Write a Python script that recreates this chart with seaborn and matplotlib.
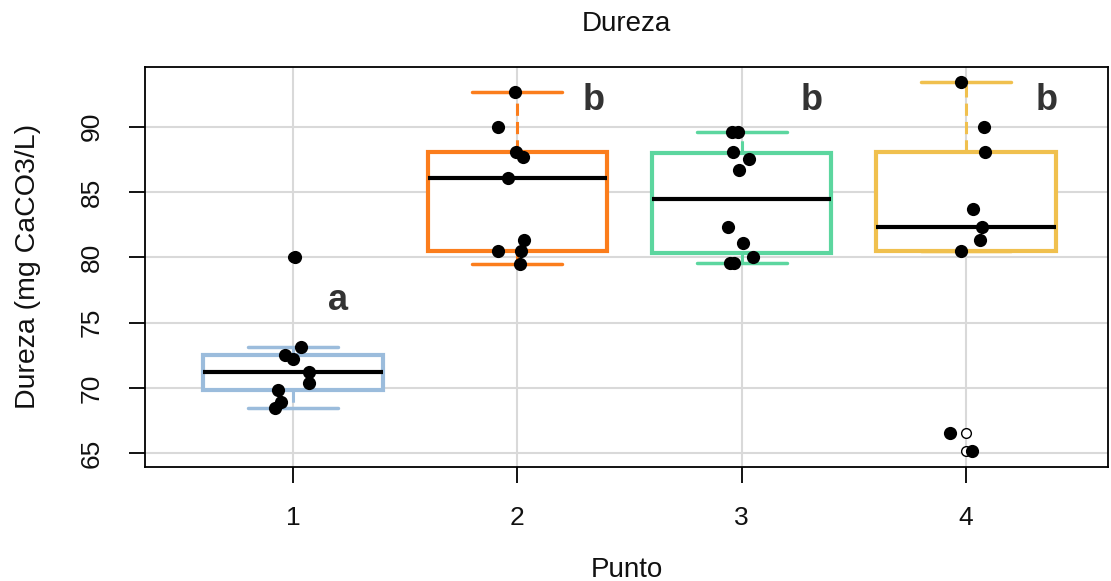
import numpy as np
import pandas as pd
import matplotlib
matplotlib.use("Agg")
import matplotlib.pyplot as plt
import seaborn as sns

# ---- data ----
categories = ["1", "2", "3", "4"]
dureza_1 = [80.05, 73.1, 72.5, 72.2, 71.25, 70.4, 69.84, 68.95, 68.5]
dureza_2 = [92.63, 90.0, 88.09, 87.65, 86.05, 81.33, 80.48, 80.48, 79.49]
dureza_3 = [89.62, 89.62, 88.09, 87.55, 86.68, 82.3, 81.07, 80.05, 79.6, 79.54]
dureza_4 = [93.45, 90.0, 88.09, 83.7, 82.3, 81.33, 80.48, 66.57, 65.19]
letters = ["a", "b", "b", "b"]
letter_y = [76.7, 92.0, 92.0, 92.0]
letter_dx = [0.20, 0.34, 0.31, 0.36]
yticks = [65, 70, 75, 80, 85, 90]

colors = ["#9BBCDC", "#FB7D1C", "#5CD69F", "#F0C04E"]

series = [dureza_1, dureza_2, dureza_3, dureza_4]
df = pd.DataFrame({
    "Punto": np.concatenate([[c] * len(v) for c, v in zip(categories, series)]),
    "Dureza": np.concatenate(series),
})

sns.set_theme(style="white")
plt.rcParams["font.family"] = ["Liberation Sans", "DejaVu Sans"]

fig, ax = plt.subplots(figsize=(11.11, 5.81), dpi=100)
fig.subplots_adjust(left=0.1305, right=0.9973, top=0.8847, bottom=0.1967)

for cat, col in zip(categories, colors):
    sub = df[df["Punto"] == cat]
    sns.boxplot(
        data=sub, x="Punto", y="Dureza", order=categories, ax=ax,
        width=0.8, fill=True, linewidth=3, whis=1.5,
        boxprops={"facecolor": "white", "edgecolor": col, "linewidth": 3, "zorder": 2},
        whiskerprops={"color": col, "linewidth": 2.2, "linestyle": (0, (4, 2)), "zorder": 2},
        capprops={"color": col, "linewidth": 2.5, "zorder": 2},
        medianprops={"color": "black", "linewidth": 3, "zorder": 3},
        flierprops={"marker": "o", "markerfacecolor": "white",
                    "markeredgecolor": "black", "markersize": 7,
                    "markeredgewidth": 1.0, "zorder": 3},
    )

np.random.seed(3)
sns.stripplot(data=df, x="Punto", y="Dureza", order=categories, ax=ax,
              color="black", size=9.5, jitter=0.09, linewidth=0, zorder=5)

for i, (lt, ly, dx) in enumerate(zip(letters, letter_y, letter_dx)):
    ax.text(i + dx, ly, lt, ha="center", va="center", fontsize=26,
            fontweight="bold", color="#333333", zorder=6)

ax.set_xlim(-0.66, 3.633)
ax.set_ylim(63.97, 94.57)
ax.set_yticks(yticks)
ax.set_yticklabels([str(t) for t in yticks])

ax.grid(True, color="#d9d9d9", linewidth=1.5)
ax.set_axisbelow(True)
for sp in ax.spines.values():
    sp.set_visible(True)
    sp.set_color("black")
    sp.set_linewidth(1.3)

ax.tick_params(axis="both", which="major", direction="out", length=11.5,
               width=1.3, color="black", labelsize=19, labelcolor="#111111",
               bottom=True, left=True)
ax.tick_params(axis="x", pad=17)
ax.tick_params(axis="y", pad=18)
for lbl in ax.get_yticklabels():
    lbl.set_rotation(90)
    lbl.set_va("center")
    lbl.set_ha("right")

ax.set_xlabel("Punto", fontsize=20, color="#111111", labelpad=19)
ax.set_ylabel("Dureza (mg CaCO3/L)", fontsize=20.5, color="#111111", labelpad=28)
ax.set_title("Dureza", fontsize=20, color="#111111", pad=26)

fig.savefig("out.png", dpi=100)
